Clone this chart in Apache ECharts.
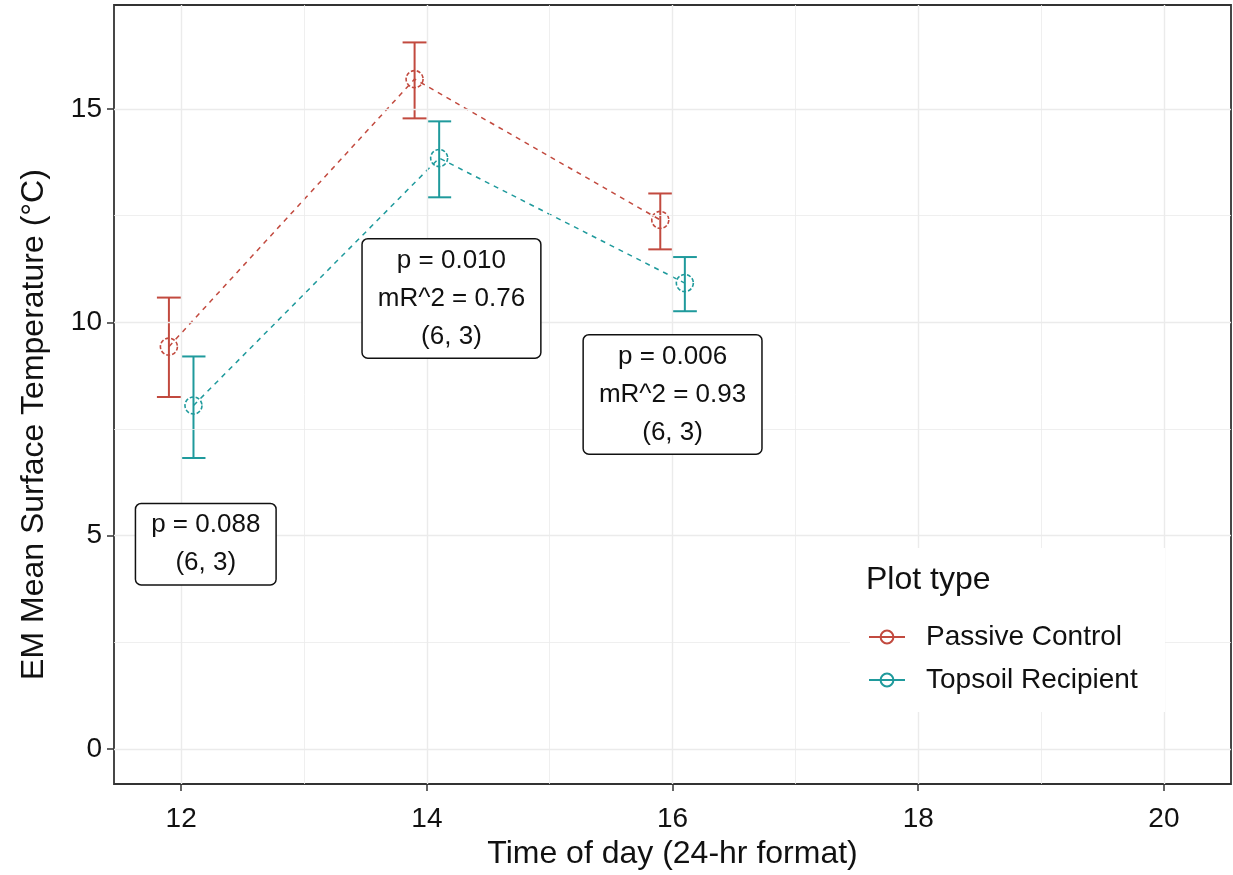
<!DOCTYPE html>
<html>
<head>
<meta charset="utf-8">
<script src="https://cdn.jsdelivr.net/npm/echarts@6/dist/echarts.min.js"></script>
<style>
html, body { margin: 0; padding: 0; background: #fff; }
#main { width: 1233px; height: 875px; }
</style>
</head>
<body>
<div id="main"></div>
<script>
// data
var groups = ['Passive Control', 'Topsoil Recipient'];
var passiveTime = [11.9, 13.9, 15.9];
var passiveMean = [9.43, 15.7, 12.4];
var passiveLow  = [8.25, 14.78, 11.71];
var passiveHigh = [10.58, 16.56, 13.02];
var topsoilTime = [12.1, 14.1, 16.1];
var topsoilMean = [8.05, 13.85, 10.92];
var topsoilLow  = [6.82, 12.93, 10.26];
var topsoilHigh = [9.2, 14.71, 11.53];
var xTicks = [12, 14, 16, 18, 20];
var xMinor = [13, 15, 17, 19];
var yTicks = [0, 5, 10, 15];
var yMinor = [2.5, 7.5, 12.5];
var noteX = [12.2, 14.2, 16.0];
var noteY = [4.8, 10.56, 8.31];
var noteText = ['p = 0.088\n(6, 3)', 'p = 0.010\nmR^2 = 0.76\n(6, 3)', 'p = 0.006\nmR^2 = 0.93\n(6, 3)'];

var colors = ['#c24a3f', '#1f9a9c'];
var font = 'Liberation Sans, Arial, sans-serif';

var chart = echarts.init(document.getElementById('main'));

function zip(a, b, c) {
    var out = [];
    for (var i = 0; i < a.length; i++) {
        out.push(c ? [a[i], b[i], c[i]] : [a[i], b[i]]);
    }
    return out;
}

// grid lines (major + minor) like theme_bw
var gridLines = [];
xTicks.forEach(function (v) { gridLines.push({ xAxis: v, lineStyle: { width: 1.4 } }); });
xMinor.forEach(function (v) { gridLines.push({ xAxis: v, lineStyle: { width: 0.8 } }); });
yTicks.forEach(function (v) { gridLines.push({ yAxis: v, lineStyle: { width: 1.4 } }); });
yMinor.forEach(function (v) { gridLines.push({ yAxis: v, lineStyle: { width: 0.8 } }); });

function errorBars(color) {
    return function (params, api) {
        var lo = api.coord([api.value(0), api.value(1)]);
        var hi = api.coord([api.value(0), api.value(2)]);
        var w = 12;
        var st = { stroke: color, lineWidth: 2 };
        return {
            type: 'group',
            children: [
                { type: 'line', shape: { x1: lo[0], y1: lo[1], x2: hi[0], y2: hi[1] }, style: st },
                { type: 'line', shape: { x1: lo[0] - w, y1: lo[1], x2: lo[0] + w, y2: lo[1] }, style: st },
                { type: 'line', shape: { x1: hi[0] - w, y1: hi[1], x2: hi[0] + w, y2: hi[1] }, style: st }
            ]
        };
    };
}

var notes = [];
for (var i = 0; i < noteText.length; i++) {
    notes.push({ value: [noteX[i], noteY[i]], note: noteText[i] });
}

function meanSeries(name, data, color) {
    return {
        name: name,
        type: 'line',
        data: data,
        symbol: 'circle',
        symbolSize: 17,
        z: 4,
        lineStyle: { color: color, width: 1.5, type: [5, 5] },
        itemStyle: { color: 'rgba(0,0,0,0)', borderColor: color, borderWidth: 1.6, borderType: [4, 2] },
        emphasis: { disabled: true },
        animation: false
    };
}

var option = {
    backgroundColor: '#fff',
    animation: false,
    grid: {
        left: 114, right: 2, top: 5, bottom: 91,
        show: true, borderColor: '#333', borderWidth: 1.8, backgroundColor: '#fff'
    },
    xAxis: {
        type: 'value',
        min: 11.453,
        max: 20.546,
        name: 'Time of day (24-hr format)',
        nameLocation: 'middle',
        nameGap: 54,
        nameTextStyle: { fontSize: 32, color: '#111', fontFamily: font },
        axisLine: { show: false, onZero: false },
        splitLine: { show: false },
        axisTick: { show: true, length: 7, customValues: xTicks, lineStyle: { color: '#333', width: 1.5 } },
        axisLabel: { customValues: xTicks, fontSize: 28, margin: 21, color: '#111', fontFamily: font }
    },
    yAxis: {
        type: 'value',
        min: -0.82,
        max: 17.437,
        name: 'EM Mean Surface Temperature (°C)',
        nameLocation: 'middle',
        nameGap: 64,
        nameTextStyle: { fontSize: 32, color: '#111', fontFamily: font, padding: [0, 60, 0, 0] },
        axisLine: { show: false, onZero: false },
        splitLine: { show: false },
        axisTick: { show: true, length: 7, customValues: yTicks, lineStyle: { color: '#333', width: 1.5 } },
        axisLabel: { customValues: yTicks, fontSize: 28, margin: 12, color: '#111', fontFamily: font }
    },
    legend: {
        data: groups,
        left: 850,
        top: 548,
        orient: 'vertical',
        padding: [75, 40, 20, 18],
        itemWidth: 36,
        itemHeight: 16,
        itemGap: 15,
        z: 8,
        lineStyle: { type: 'solid' },
        itemStyle: { borderType: 'solid' },
        textStyle: { fontSize: 28, color: '#111', fontFamily: font, lineHeight: 26, padding: [0, 0, 0, 16] },
        selectedMode: false
    },
    graphic: [{
        type: 'rect',
        left: 850,
        top: 548,
        z: 7,
        shape: { width: 315, height: 164 },
        style: { fill: '#fff' }
    }, {
        type: 'text',
        left: 866,
        top: 564,
        z: 9,
        style: { text: 'Plot type', fontSize: 32, fill: '#111', fontFamily: font }
    }],
    series: [
        {
            type: 'line',
            data: [],
            silent: true,
            z: 1,
            markLine: {
                silent: true,
                symbol: 'none',
                label: { show: false },
                lineStyle: { color: '#ebebeb', type: 'solid' },
                animation: false,
                data: gridLines
            }
        },
        {
            type: 'custom',
            renderItem: errorBars(colors[0]),
            data: zip(passiveTime, passiveLow, passiveHigh),
            encode: { x: 0, y: [1, 2] },
            z: 3,
            silent: true
        },
        {
            type: 'custom',
            renderItem: errorBars(colors[1]),
            data: zip(topsoilTime, topsoilLow, topsoilHigh),
            encode: { x: 0, y: [1, 2] },
            z: 3,
            silent: true
        },
        meanSeries(groups[0], zip(passiveTime, passiveMean), colors[0]),
        meanSeries(groups[1], zip(topsoilTime, topsoilMean), colors[1]),
        {
            type: 'scatter',
            data: notes,
            symbol: 'circle',
            symbolSize: 0,
            z: 6,
            silent: true,
            itemStyle: { opacity: 1 },
            label: {
                show: true,
                position: 'inside',
                formatter: function (p) { return p.data.note; },
                backgroundColor: '#fff',
                borderColor: '#111',
                borderWidth: 1.5,
                borderRadius: 5,
                padding: [2, 15, 2, 15],
                fontSize: 26,
                lineHeight: 38,
                color: '#111',
                opacity: 1,
                fontFamily: font,
                align: 'center'
            }
        }
    ]
};

chart.setOption(option);
</script>
</body>
</html>
